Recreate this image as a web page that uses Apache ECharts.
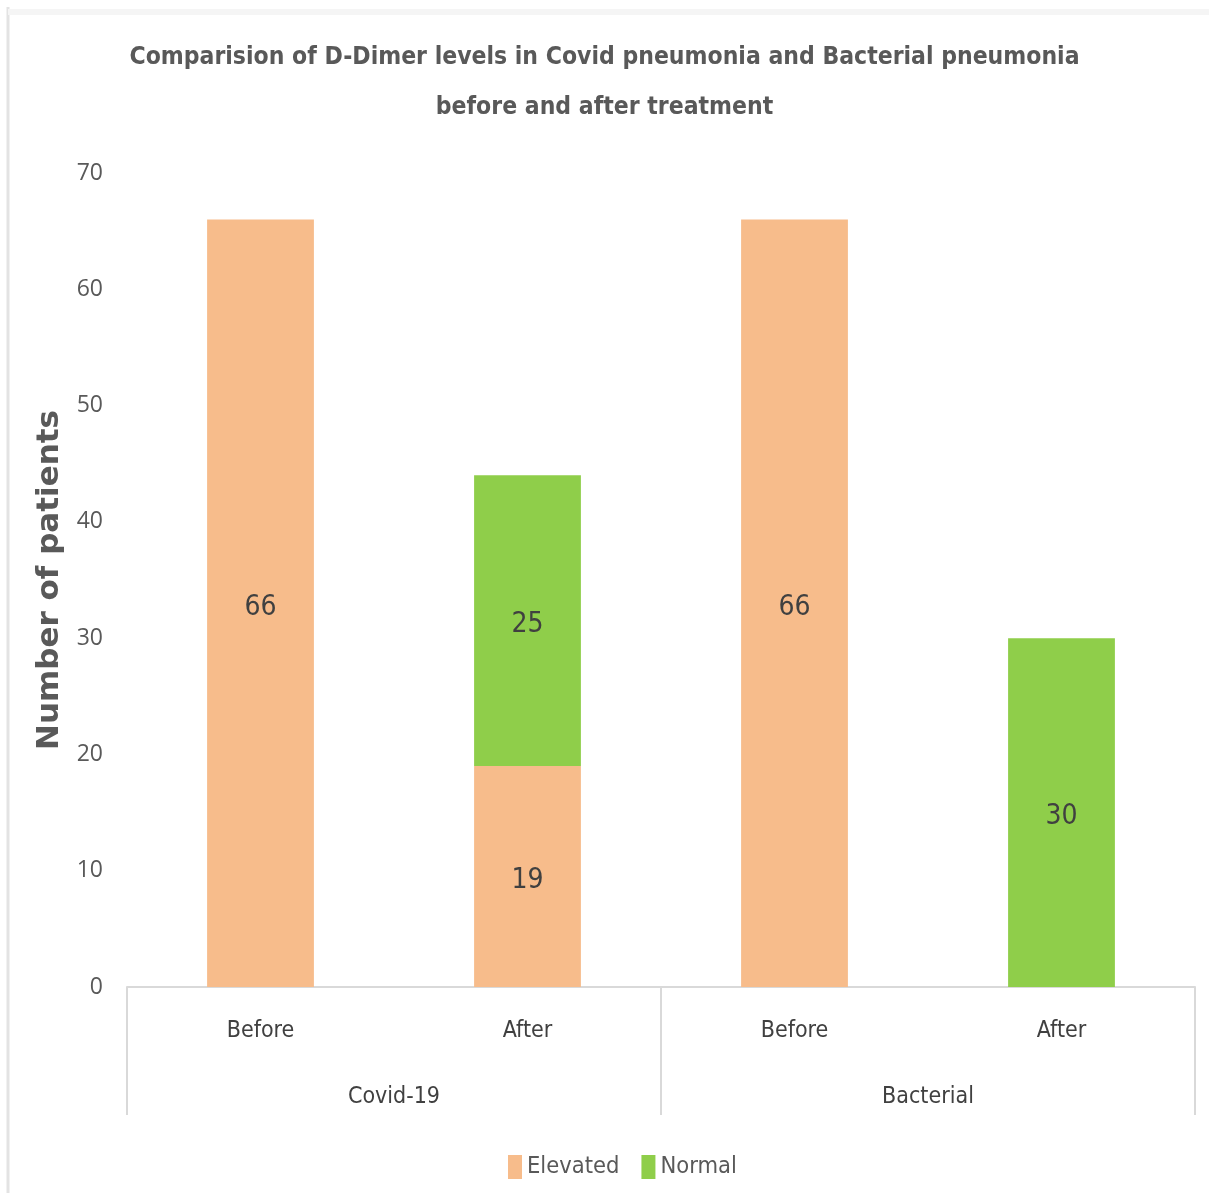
<!DOCTYPE html>
<html>
<head>
<meta charset="utf-8">
<script src="https://cdn.jsdelivr.net/npm/echarts@6/dist/echarts.min.js"></script>
<style>
  html, body { margin: 0; padding: 0; background: #fff; }
  #main { width: 1209px; height: 1193px; }
</style>
</head>
<body>
<div id="main"></div>
<script>
// data
var stages = ['Before', 'After', 'Before', 'After']
var groups = ['Covid-19', 'Bacterial']
var elevated = [66, 19, 66, null]
var normal = [null, 25, null, 30]
var yTicks = [0, 10, 20, 30, 40, 50, 60, 70]

var font = '"DejaVu Sans Condensed", "Liberation Sans Narrow", sans-serif'
var chart = echarts.init(document.getElementById('main'))

var option = {
    backgroundColor: '#fff',
    animation: false,
    // faint frame left over from the pasted picture
    graphic: [
        {
            type: 'line',
            shape: { x1: 8, y1: 7, x2: 8, y2: 1193 },
            style: { stroke: '#e3e3e3', lineWidth: 3 },
            silent: true
        },
        {
            type: 'line',
            shape: { x1: 8, y1: 12, x2: 1209, y2: 12 },
            style: { stroke: '#f5f5f5', lineWidth: 6 },
            silent: true
        }
    ],
    title: {
        text: 'Comparision of D-Dimer levels in Covid pneumonia and Bacterial pneumonia\nbefore and after treatment',
        left: 'center',
        top: 28,
        textStyle: {
            fontFamily: font,
            fontSize: 24.5,
            fontWeight: 'bold',
            color: '#595959',
            lineHeight: 50
        }
    },
    legend: {
        bottom: 9,
        left: 503,
        itemWidth: 14,
        itemHeight: 24,
        itemGap: 22,
        icon: 'rect',
        textStyle: { fontFamily: font, fontSize: 23.5, color: '#595959' },
        data: ['Elevated', 'Normal']
    },
    grid: { left: 127, right: 14, top: 173, bottom: 206 },
    xAxis: [
        {
            type: 'category',
            data: stages,
            axisLine: { lineStyle: { color: '#d9d9d9', width: 2 } },
            axisTick: { show: false },
            axisLabel: { margin: 33, fontFamily: font, fontSize: 23, color: '#404040' }
        },
        {
            type: 'category',
            data: groups,
            position: 'bottom',
            axisLine: { show: false },
            axisTick: { show: true, length: 128, lineStyle: { color: '#d9d9d9', width: 2 } },
            axisLabel: { margin: 99, fontFamily: font, fontSize: 23, color: '#404040' }
        }
    ],
    yAxis: {
        type: 'value',
        min: yTicks[0],
        max: yTicks[yTicks.length - 1],
        interval: 10,
        name: 'Number of patients',
        nameLocation: 'middle',
        nameGap: 37,
        nameTextStyle: { fontFamily: '"DejaVu Sans", sans-serif', fontSize: 31, fontWeight: 'bold', color: '#595959' },
        axisLine: { show: false },
        axisTick: { show: false },
        splitLine: { show: false },
        axisLabel: { margin: 24, fontFamily: '"Open Sans", sans-serif', fontSize: 23, color: '#595959' }
    },
    series: [
        {
            name: 'Elevated',
            type: 'bar',
            stack: 'total',
            barWidth: '40%',
            data: elevated,
            itemStyle: { color: '#F7BC8B' },
            label: { show: true, position: 'inside', offset: [0, 4], fontFamily: font, fontSize: 28, color: '#404040' }
        },
        {
            name: 'Normal',
            type: 'bar',
            stack: 'total',
            barWidth: '40%',
            data: normal,
            itemStyle: { color: '#8FCE4A' },
            label: { show: true, position: 'inside', offset: [0, 4], fontFamily: font, fontSize: 28, color: '#404040' }
        }
    ]
}

chart.setOption(option)
</script>
</body>
</html>
